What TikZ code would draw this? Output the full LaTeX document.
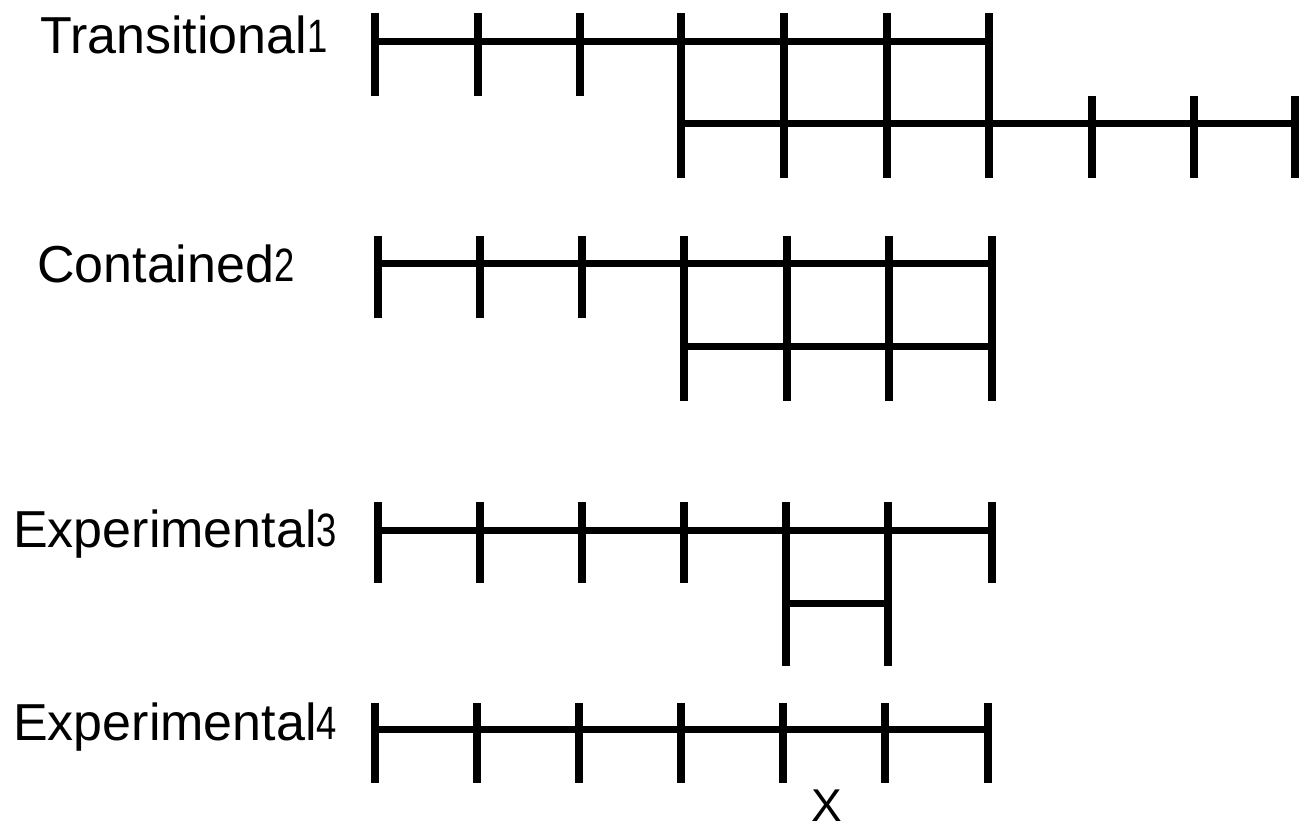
\documentclass[tikz,border=0pt]{standalone}
\usepackage{fontspec}
\setmainfont{Liberation Sans}
\newcommand{\supdig}[1]{\raisebox{1pt}{\scalebox{0.7}[0.9]{#1}}}
\begin{document}
\begin{tikzpicture}[x=1pt,y=-1pt,
  tick/.style={line width=8pt,line cap=butt},
  bar/.style={line width=7pt,line cap=butt},
  lbl/.style={inner sep=0pt,anchor=base west,font=\fontsize{52}{60}\selectfont},
  xlbl/.style={inner sep=0pt,anchor=base,font=\fontsize{46}{54}\selectfont}]
\useasboundingbox (0,0) rectangle (1310,828);
% labels
\node[lbl] (l1) at (40,53) {Transitional\supdig{1}};
\node[lbl] (l2) at (37,282) {Contained\supdig{2}};
\node[lbl] (l3) at (13,547) {Experimental\supdig{3}};
\node[lbl] (l4) at (13,740) {Experimental\supdig{4}};
\node[xlbl] (xl) at (827,821) {X};
% Row 1 (Transitional)
\coordinate (r1a) at (375,41);
\coordinate (r1b) at (988.5,41);
\coordinate (r1c) at (681,123);
\coordinate (r1d) at (1295,123);
\draw[bar] (r1a) -- (r1b);
\draw[bar] (r1c) -- (r1d);
\foreach \x in {375,477.5,579.5} \draw[tick] (\x,13) -- (\x,96);
\foreach \x in {681,784,886.5,988.5} \draw[tick] (\x,13) -- (\x,178);
\foreach \x in {1091.5,1193.5,1295} \draw[tick] (\x,96) -- (\x,178);
% Row 2 (Contained)
\coordinate (r2a) at (377.5,263);
\coordinate (r2b) at (991.5,263);
\coordinate (r2c) at (684,346);
\coordinate (r2d) at (991.5,346);
\draw[bar] (r2a) -- (r2b);
\draw[bar] (r2c) -- (r2d);
\foreach \x in {377.5,480,582} \draw[tick] (\x,236) -- (\x,318);
\foreach \x in {684,787,889,991.5} \draw[tick] (\x,236) -- (\x,401);
% Row 3 (Experimental 3)
\coordinate (r3a) at (378,530);
\coordinate (r3b) at (992,530);
\coordinate (r3c) at (786,603);
\coordinate (r3d) at (888,603);
\draw[bar] (r3a) -- (r3b);
\draw[bar] (r3c) -- (r3d);
\foreach \x in {378,480,582,684,786,888,992} \draw[tick] (\x,502) -- (\x,583);
\foreach \x in {786,888} \draw[tick] (\x,583) -- (\x,666);
% Row 4 (Experimental 4)
\coordinate (r4a) at (375,729);
\coordinate (r4b) at (988,729);
\draw[bar] (r4a) -- (r4b);
\foreach \x in {375,477,579,681,783,885,988} \draw[tick] (\x,703) -- (\x,783);
\end{tikzpicture}
\end{document}
